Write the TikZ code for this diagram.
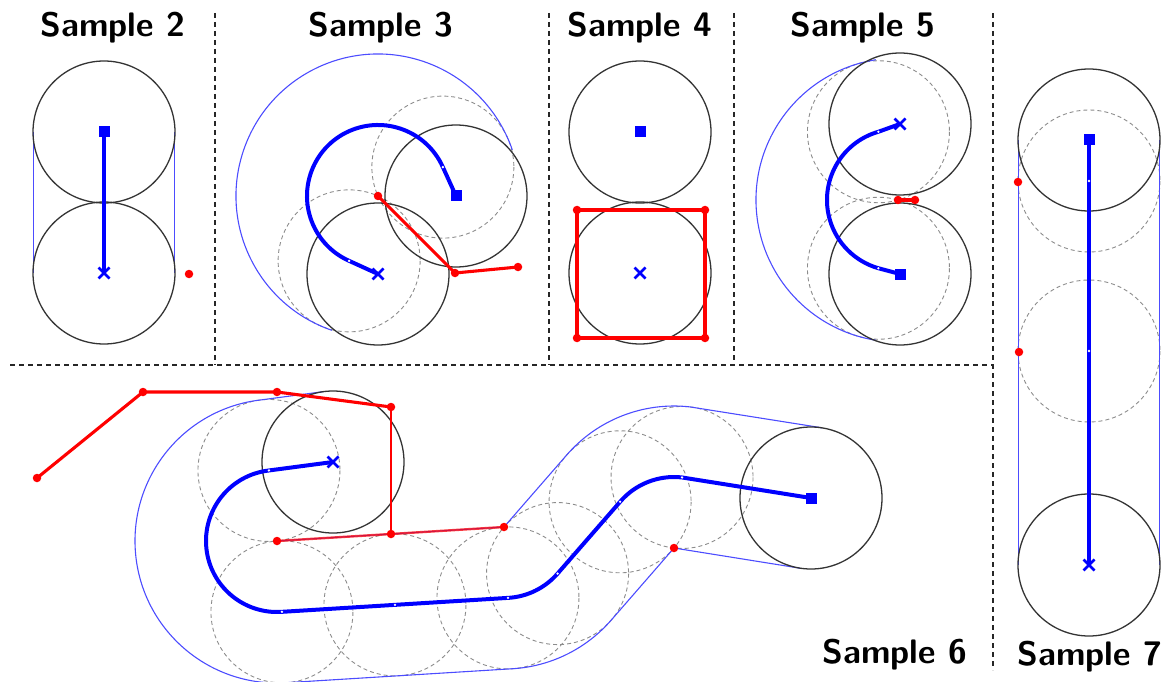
\documentclass[tikz,border=0pt]{standalone}
\usetikzlibrary{calc,shapes.misc}
\begin{document}
\begin{tikzpicture}[x=1pt,y=-1pt]
\tikzstyle{every node}=[inner sep=0pt,outer sep=0pt]
\tikzstyle{sep}=[draw=black!85,line width=1.3pt,dash pattern=on 5pt off 4pt]
\tikzstyle{robot}=[draw=black!80,line width=1.3pt]
\tikzstyle{ghost}=[draw=black!45,line width=0.9pt,dash pattern=on 4pt off 3pt]
\tikzstyle{hull}=[draw=blue!70,line width=1.1pt]
\tikzstyle{route}=[draw=blue,line width=4pt]
\tikzstyle{wall}=[draw=red,line width=3.1pt,line join=round]
\tikzstyle{thinwall}=[draw=red,line width=1.7pt]
\tikzstyle{goalbox}=[rectangle,fill=blue,minimum size=11pt]
\tikzstyle{startx}=[cross out,draw=blue,line width=2.8pt,minimum size=11pt]
\tikzstyle{obsdot}=[circle,fill=red,minimum size=8.5pt]
\tikzstyle{knot}=[circle,fill=white,minimum size=2.6pt]
\tikzstyle{title}=[anchor=base,font=\fontsize{34}{40}\selectfont\sffamily\bfseries]
\useasboundingbox (0,0) rectangle (1171,682);
\clip (0,0) rectangle (1171,682);
% panel borders
\draw[sep] (215,13) -- (215,365);
\draw[sep] (549,13) -- (549,365);
\draw[sep] (734,13) -- (734,365);
\draw[sep] (993,13) -- (993,670);
\draw[sep] (10,365) -- (993,365);
% sample 2
\coordinate (a2) at (104,132);
\coordinate (b2) at (104,273);
\draw[hull] (33.5,132) -- (33.5,273);
\draw[hull] (174.5,132) -- (174.5,273);
\draw[robot] (a2) circle[radius=71];
\draw[robot] (b2) circle[radius=71];
\draw[route] (a2) -- (b2);
\node[goalbox] (g2) at (a2) {};
\node[startx] (s2) at (b2) {};
\node[obsdot] (o2) at (189,274) {};
\node[title] (t2) at (113,37) {Sample 2};
% sample 3
\coordinate (c3) at (378,196);
\coordinate (a3) at (456,196);
\coordinate (b3) at (378,274);
\coordinate (p3) at ($(c3)+(336:71)$);
\coordinate (q3) at ($(c3)+(114:71)$);
\draw[ghost] (p3) circle[radius=71];
\draw[ghost] (q3) circle[radius=71];
\draw[hull] ($(c3)+(109:142)$) arc[start angle=109,end angle=341,radius=142];
\draw[robot] (a3) circle[radius=71];
\draw[robot] (b3) circle[radius=71];
\node[obsdot] (o3a) at (c3) {};
\node[obsdot] (o3b) at (455,273) {};
\node[obsdot] (o3c) at (518,267) {};
\draw[wall] (o3a.center) -- (o3b.center) -- (o3c.center);
\draw[route] (a3) -- (p3) arc[start angle=336,end angle=114,radius=71] -- (b3);
\node[knot] (k3a) at (p3) {};
\node[knot] (k3b) at (q3) {};
\node[goalbox] (g3) at (a3) {};
\node[startx] (s3) at (b3) {};
\node[title] (t3) at (381,37) {Sample 3};
% sample 4
\coordinate (a4) at (640,132);
\coordinate (b4) at (640,273);
\draw[robot] (a4) circle[radius=71];
\draw[robot] (b4) circle[radius=71];
\node[obsdot] (o4a) at (577,210) {};
\node[obsdot] (o4b) at (705,210) {};
\node[obsdot] (o4c) at (705,338) {};
\node[obsdot] (o4d) at (577,338) {};
\draw[wall] (o4a.center) -- (o4b.center) -- (o4c.center) -- (o4d.center) -- cycle;
\node[goalbox] (g4) at (a4) {};
\node[startx] (s4) at (b4) {};
\node[title] (t4) at (640,37) {Sample 4};
% sample 5
\coordinate (c5) at (898,200);
\coordinate (a5) at (900,274);
\coordinate (b5) at (900,124);
\coordinate (p5) at ($(c5)+(254:71)$);
\coordinate (q5) at ($(c5)+(106:71)$);
\draw[ghost] (p5) circle[radius=71];
\draw[ghost] (q5) circle[radius=71];
\draw[hull] ($(c5)+(261:142)$) arc[start angle=261,end angle=99,radius=142];
\draw[robot] (a5) circle[radius=71];
\draw[robot] (b5) circle[radius=71];
\node[obsdot] (o5a) at (c5) {};
\node[obsdot] (o5b) at (915,200) {};
\draw[wall] (o5a.center) -- (o5b.center);
\draw[route] (b5) -- (p5) arc[start angle=254,end angle=106,radius=71] -- (a5);
\node[knot] (k5a) at (p5) {};
\node[knot] (k5b) at (q5) {};
\node[goalbox] (g5) at (a5) {};
\node[startx] (s5) at (b5) {};
\node[title] (t5) at (863,37) {Sample 5};
% sample 6
\coordinate (c6a) at (277,541);
\coordinate (c6b) at (504,527);
\coordinate (c6c) at (674,548);
\coordinate (a6) at (333,462);
\coordinate (b6) at (811,498);
\coordinate (p6a) at ($(c6a)+(263.5:71)$);
\coordinate (p6b) at ($(c6a)+(86:71)$);
\coordinate (p6d) at ($(c6b)+(86.8:71)$);
\coordinate (p6c) at ($(p6b)!0.5!(p6d)$);
\coordinate (p6e) at ($(c6b)+(41:71)$);
\coordinate (p6f) at ($(c6c)+(220.6:71)$);
\coordinate (p6g) at ($(c6c)+(276.5:71)$);
\draw[ghost] (p6a) circle[radius=71];
\draw[ghost] (p6b) circle[radius=71];
\draw[ghost] (p6c) circle[radius=71];
\draw[ghost] (p6d) circle[radius=71];
\draw[ghost] (p6e) circle[radius=71];
\draw[ghost] (p6f) circle[radius=71];
\draw[ghost] (p6g) circle[radius=71];
\draw[hull] ($(a6)+(-9.4,-70.4)$) -- ($(c6a)+(263.5:142)$) arc[start angle=263.5,end angle=86,radius=142] -- ($(c6b)+(86.8:142)$) arc[start angle=86.8,end angle=41,radius=142] -- (c6c) -- ($(b6)+(-10.9,70.2)$);
\draw[hull] (c6a) -- (c6b) -- ($(c6c)+(220.6:142)$) arc[start angle=220.6,end angle=276.5,radius=142] -- ($(b6)+(10.9,-70.2)$);
\draw[robot] (a6) circle[radius=71];
\draw[robot] (b6) circle[radius=71];
\node[obsdot] (w1) at (37,478) {};
\node[obsdot] (w2) at (143,392) {};
\node[obsdot] (w3) at (277,392) {};
\node[obsdot] (w4) at (391,407) {};
\node[obsdot] (w5) at (391,534) {};
\node[obsdot] (w6) at (c6a) {};
\node[obsdot] (w7) at (c6b) {};
\node[obsdot] (w8) at (c6c) {};
\draw[wall] (w1.center) -- (w2.center) -- (w3.center) -- (w4.center);
\draw[thinwall] (w4.center) -- (w5.center);
\draw[thinwall,line width=2.4pt,draw opacity=0.75] (w6.center) -- (w5.center) -- (w7.center);
\draw[route] (a6) -- (p6a) arc[start angle=263.5,end angle=86,radius=71] -- (p6d) arc[start angle=86.8,end angle=41,radius=71] -- (p6f) arc[start angle=220.6,end angle=276.5,radius=71] -- (b6);
\node[knot] (k6a) at (p6a) {};
\node[knot] (k6b) at (p6b) {};
\node[knot] (k6c) at (p6c) {};
\node[knot] (k6d) at (p6d) {};
\node[knot] (k6e) at (p6e) {};
\node[knot] (k6f) at (p6f) {};
\node[knot] (k6g) at (p6g) {};
\node[goalbox] (g6) at (b6) {};
\node[startx] (s6) at (a6) {};
\node[title] (t6) at (895,663) {Sample 6};
% sample 7
\coordinate (a7) at (1089,140);
\coordinate (b7) at (1089,565);
\coordinate (p7) at (1089,181);
\coordinate (q7) at (1089,351);
\draw[ghost] (p7) circle[radius=71];
\draw[ghost] (q7) circle[radius=71];
\draw[hull] (1018.5,140) -- (1018.5,565);
\draw[hull] (1159.5,140) -- (1159.5,565);
\draw[robot] (a7) circle[radius=71];
\draw[robot] (b7) circle[radius=71];
\node[obsdot] (o7a) at (1018,182) {};
\node[obsdot] (o7b) at (1019,352) {};
\draw[route] (a7) -- (b7);
\node[knot] (k7a) at (p7) {};
\node[knot] (k7b) at (q7) {};
\node[goalbox] (g7) at (a7) {};
\node[startx] (s7) at (b7) {};
\node[title] (t7) at (1090,665) {Sample 7};
\end{tikzpicture}
\end{document}
